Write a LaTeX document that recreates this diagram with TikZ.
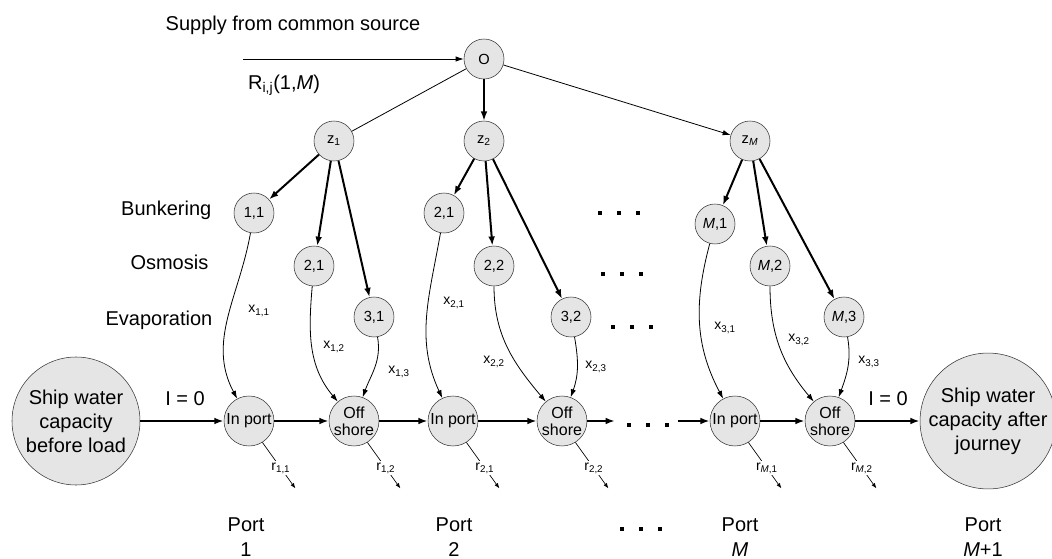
\documentclass[tikz,border=0pt]{standalone}
\usepackage{fontspec}
\setmainfont{Liberation Sans}
\usetikzlibrary{arrows.meta}

\begin{document}
\begin{tikzpicture}[x=0.75pt,y=-0.75pt,
    stage/.style={circle,draw=black!80,fill=black!10,minimum size=30pt,inner sep=0pt,font=\fontsize{11}{12}\selectfont},
    portnode/.style={circle,draw=black!80,fill=black!10,minimum size=37.5pt,inner sep=0pt,align=center,font=\fontsize{12}{12.5}\selectfont},
    tank/.style={circle,draw=black!80,fill=black!10,minimum size=96pt,inner sep=0pt,align=center,font=\fontsize{15}{18}\selectfont},
    lbl/.style={font=\fontsize{15}{18.5}\selectfont,align=center},
    flowlbl/.style={font=\fontsize{10.5}{12}\selectfont,inner sep=1pt},
    flow/.style={line width=2.2pt,-{Latex[length=7pt,width=5pt]}},
    feed/.style={line width=1.5pt,-{Latex[length=7pt,width=5pt]}},
    thinarrow/.style={line width=0.6pt,-{Latex[length=6pt,width=4pt]}},
    loss/.style={line width=0.5pt,-{Latex[length=4pt,width=3pt]}}
]
    \pgfmathsetmacro{\mainy}{421}
    \providecommand{\rowdots}[2]{\foreach \k in {0,1,2} \fill ({#1+\k*19-2},{#2-2}) rectangle ++(4,4);}
    \useasboundingbox (0,0) rectangle (1052,559);

    % source and split nodes
    \node[stage] (O) at (484,59) {O};
    \node[stage] (z1) at (334,141) {z\textsubscript{1}};
    \node[stage] (z2) at (484,141) {z\textsubscript{2}};
    \node[stage] (zM) at (750,141) {z\textsubscript{\textit{M}}};
    \coordinate (src) at (243,59);
    \node[lbl] (supplylbl) at (293,25) {Supply from common source};
    \node[lbl] (rlbl) at (284,85) {R\textsubscript{i,j}(1,\textit{M})};

    % treatment nodes
    \node[stage] (b11) at (254,213) {1,1};
    \node[stage] (o21) at (314,266) {2,1};
    \node[stage] (e31) at (374,317) {3,1};
    \node[stage] (b21) at (444,213) {2,1};
    \node[stage] (o22) at (494,266) {2,2};
    \node[stage] (e32) at (571,317) {3,2};
    \node[stage] (bM1) at (715,224) {\textit{M},1};
    \node[stage] (oM2) at (770,266) {\textit{M},2};
    \node[stage] (eM3) at (844,317) {\textit{M},3};
    \node[lbl,anchor=east] (bunk) at (216,210) {Bunkering};
    \node[lbl,anchor=east] (osmo) at (213,262) {Osmosis};
    \node[lbl,anchor=east] (evap) at (217,320) {Evaporation};
    \rowdots{600}{213}
    \rowdots{603}{274}
    \rowdots{613}{327}

    % ship route
    \node[tank] (before) at (76,\mainy) {Ship water\\capacity\\before load};
    \node[portnode] (ip1) at (249,\mainy) {In port};
    \node[portnode] (os1) at (354,\mainy) {Off\\shore};
    \node[portnode] (ip2) at (453,\mainy) {In port};
    \node[portnode] (os2) at (562,\mainy) {Off\\shore};
    \node[portnode] (ipM) at (735,\mainy) {In port};
    \node[portnode] (osM) at (830,\mainy) {Off\\shore};
    \node[tank] (after) at (988,\mainy) {Ship water\\capacity after\\journey};
    \coordinate (gapL) at (615,\mainy);
    \coordinate (gapR) at (678,\mainy);
    \rowdots{629}{425}
    \node[lbl] (i0a) at (185,399) {I = 0};
    \node[lbl] (i0b) at (888,399) {I = 0};

    \node[lbl] (p1) at (246,537) {Port\\1};
    \node[lbl] (p2) at (454,537) {Port\\2};
    \node[lbl] (pM) at (740,537) {Port\\\textit{M}};
    \node[lbl] (pM1) at (983,537) {Port\\\textit{M}+1};
    \rowdots{622}{529}

    % supply tree
    \draw[thinarrow] (src) -- (O);
    \draw[line width=0.6pt] (O) -- (z1);
    \draw[feed,line width=1.2pt] (O) -- (z2);
    \draw[thinarrow] (O) -- (zM);
    \foreach \z/\a/\b/\c in {z1/b11/o21/e31,z2/b21/o22/e32,zM/bM1/oM2/eM3}{
        \draw[feed] (\z) -- (\a);
        \draw[feed] (\z) -- (\b);
        \draw[feed] (\z) -- (\c);
    }

    % treated water into the ship
    \draw[thinarrow] (b11) to[out=-100,in=118] (ip1);
    \draw[thinarrow] (o21) to[out=-95,in=130] (os1);
    \draw[thinarrow] (e31) to[out=-80,in=70] (os1);
    \draw[thinarrow] (b21) to[out=-100,in=115] (ip2);
    \draw[thinarrow] (o22) to[out=-90,in=130] (os2);
    \draw[thinarrow] (e32) to[out=-80,in=70] (os2);
    \draw[thinarrow] (bM1) to[out=-105,in=118] (ipM);
    \draw[thinarrow] (oM2) to[out=-90,in=130] (osM);
    \draw[thinarrow] (eM3) to[out=-80,in=70] (osM);
    \node[flowlbl] (x11) at (259,311) {x\textsubscript{1,1}};
    \node[flowlbl] (x12) at (334,347) {x\textsubscript{1,2}};
    \node[flowlbl] (x13) at (399,372) {x\textsubscript{1,3}};
    \node[flowlbl] (x21) at (454,303) {x\textsubscript{2,1}};
    \node[flowlbl] (x22) at (494,362) {x\textsubscript{2,2}};
    \node[flowlbl] (x23) at (596,367) {x\textsubscript{2,3}};
    \node[flowlbl] (x31) at (725,328) {x\textsubscript{3,1}};
    \node[flowlbl] (x32) at (799,340) {x\textsubscript{3,2}};
    \node[flowlbl] (x33) at (869,362) {x\textsubscript{3,3}};

    % main route and losses
    \draw[flow] (before) -- (ip1);
    \draw[flow] (ip1) -- (os1);
    \draw[flow] (os1) -- (ip2);
    \draw[flow] (ip2) -- (os2);
    \draw[flow] (os2) -- (gapL);
    \draw[flow] (gapR) -- (ipM);
    \draw[flow] (ipM) -- (osM);
    \draw[flow] (osM) -- (after);
    \foreach \n/\t in {ip1/{1,1},os1/{1,2},ip2/{2,1},os2/{2,2},ipM/{\textit{M},1},osM/{\textit{M},2}}
        \draw[loss] (\n.-58) -- ++(33,46) node[pos=0.56,fill=white,flowlbl] {r\textsubscript{\t}};
\end{tikzpicture}
\end{document}
